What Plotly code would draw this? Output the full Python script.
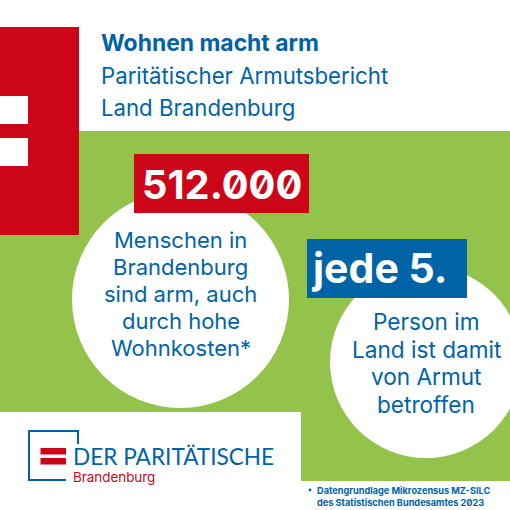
import plotly.graph_objects as go

title_lines = ["<b>Wohnen macht arm</b>", "Paritätischer Armutsbericht", "Land Brandenburg"]
big_number = "<b>512.000</b>"
big_share = "<b>jede 5.</b>"
circle1_lines = ["Menschen in", "Brandenburg", "sind arm, auch", "durch hohe", "Wohnkosten*"]
circle2_lines = ["Person im", "Land ist damit", "von Armut", "betroffen"]
logo_main = "DER PARITÄTISCHE"
logo_sub = "Brandenburg"
source_lines = ["<b>Datengrundlage Mikrozensus MZ-SILC</b>", "<b>des Statistischen Bundesamtes 2023</b>"]

BLUE = "#0063a6"
RED = "#cc0519"
GREEN = "#93c34a"
WHITE = "#ffffff"
FONT = "Inter"

def rect(x0, y0, x1, y1, color):
    return dict(type="rect", xref="x", yref="y", x0=x0, y0=y0, x1=x1, y1=y1,
                fillcolor=color, line_width=0, layer="below")

def circle(cx, cy, r, color):
    return dict(type="circle", xref="x", yref="y", x0=cx-r, y0=cy-r, x1=cx+r, y1=cy+r,
                fillcolor=color, line_width=0, layer="below")

def label(x, y, text, size, color=BLUE, anchor="left", family=FONT):
    return dict(x=x, y=y, xref="x", yref="y", text=text, showarrow=False,
                xanchor=anchor, yanchor="middle", align=anchor,
                font=dict(size=size, color=color, family=family))

shapes = [
    rect(79, 131, 510, 235, GREEN),
    rect(0, 235, 510, 412, GREEN),
    rect(301, 412, 510, 481, GREEN),
    rect(0, 27, 79, 235, RED),
    rect(0, 96, 28, 124, WHITE),
    rect(0, 138, 28, 166, WHITE),
    circle(180.5, 299.5, 108.5, WHITE),
    circle(426, 362, 96, WHITE),
    rect(134, 154, 309, 213, RED),
    rect(307, 239, 467, 298, BLUE),
    dict(type="path", xref="x", yref="y", path="M 78 444 L 78 431 L 29 431 L 29 480 L 66 480",
         line=dict(color=BLUE, width=2), fillcolor="rgba(0,0,0,0)", layer="below"),
    rect(40.5, 448, 66, 454.5, RED),
    rect(40.5, 458, 66, 464.5, RED),
    circle(310, 490, 1.4, BLUE),
]

annotations = [
    label(99, 43, title_lines[0], 22.9),
    label(99, 75, title_lines[1], 22.2),
    label(99, 107, title_lines[2], 22.2),
    label(221.5, 184, big_number, 39.8, WHITE, "center"),
    label(379, 268, big_share, 41, WHITE, "center"),
]
for y, t in zip([240, 267, 294, 321, 347.5], circle1_lines):
    annotations.append(label(180.5, y, t, 22, BLUE, "center"))
for y, t in zip([321, 349, 376, 404], circle2_lines):
    annotations.append(label(426, y, t, 22.6, BLUE, "center"))
annotations += [
    label(71, 456, logo_main, 22.6, BLUE, "left", "Lato"),
    label(71, 477, logo_sub, 13.4, RED, "left"),
    label(315, 490, source_lines[0], 9.2),
    label(315, 502, source_lines[1], 9.2),
]

fig = go.Figure()
fig.update_layout(
    width=510, height=510, autosize=False,
    margin=dict(l=0, r=0, t=0, b=0, pad=0),
    paper_bgcolor=WHITE, plot_bgcolor=WHITE,
    showlegend=False,
    shapes=shapes, annotations=annotations,
    xaxis=dict(range=[0, 510], visible=False, fixedrange=True),
    yaxis=dict(range=[510, 0], visible=False, fixedrange=True),
)
post = """
document.body.style.margin='0';
var s=document.createElement('style');
s.textContent='.annotation-text{font-feature-settings:"zero" 1;}';
document.head.appendChild(s);
"""
fig.write_html("out.html", post_script=post, config=dict(displayModeBar=False))
